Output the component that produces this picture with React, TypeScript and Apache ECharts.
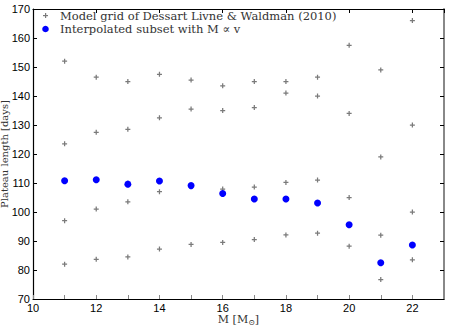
import React, { useEffect, useRef } from "react";
import * as echarts from "echarts";

const masses = [11, 12, 13, 14, 15, 16, 17, 18, 19, 20, 21, 22];
const gridTop = [152, 146.5, 145, 147.5, 145.5, 143.5, 145, 145, 146.5, 157.5, 149, 166];
const gridUpper = [123.5, 127.5, 128.5, 132.5, 135.5, 135, 136, 141, 140, 134, 119, 130];
const gridMid = [97, 101, 103.5, 107, 108.8, 107.9, 108.6, 110.2, 111, 105, 92, 100];
const gridLow = [82, 83.7, 84.5, 87.2, 88.8, 89.5, 90.5, 92.1, 92.7, 88.2, 76.7, 83.5];
const interpolated = [110.8, 111.1, 109.6, 110.7, 109.1, 106.4, 104.5, 104.5, 103.1, 95.6, 82.5, 88.6];

const xTicks = [10, 12, 14, 16, 18, 20, 22];
const yTicks = [70, 80, 90, 100, 110, 120, 130, 140, 150, 160, 170];

const legendModel = "Model grid of Dessart Livne & Waldman (2010)";
const legendInterp = "Interpolated subset with M \u221d v";

const PLUS = "path://M3,0H5V3H8V5H5V8H3V5H0V3H3Z";
const GRAY = "#7a7a7a";
const BLUE = "#0000ff";
const SERIF = "DejaVu Serif, Liberation Serif, serif";

export default function App() {
  const ref = useRef<HTMLDivElement>(null);
  useEffect(() => {
    if (!ref.current) return;
    const chart = echarts.init(ref.current, undefined, { renderer: "svg" });
    const gridData: number[][] = [];
    masses.forEach((m, i) => {
      gridData.push([m, gridTop[i]]);
      gridData.push([m, gridUpper[i]]);
      gridData.push([m, gridMid[i]]);
      gridData.push([m, gridLow[i]]);
    });
    const interpData = masses.map((m, i) => [m, interpolated[i]]);
    const tickFont = { fontFamily: "Liberation Sans, Arial, sans-serif", fontSize: 11, color: "#000" };
    chart.setOption({
      animation: false,
      backgroundColor: "#fff",
      grid: { left: 33, right: 6, top: 9, bottom: 27, containLabel: false, outerBoundsMode: "none" },
      graphic: [
        { type: "rect", left: 43, top: 15, shape: { width: 5, height: 1.2 }, style: { fill: GRAY }, z: 10 },
        { type: "rect", left: 45, top: 13, shape: { width: 1.2, height: 5 }, style: { fill: GRAY }, z: 10 },
        { type: "circle", shape: { cx: 45.5, cy: 29, r: 3.3 }, style: { fill: BLUE }, z: 10 },
        {
          type: "text",
          left: 60,
          top: 10,
          style: { text: legendModel, font: `11.5px ${SERIF}`, fill: "#333" },
          z: 10,
        },
        {
          type: "text",
          left: 60,
          top: 23,
          style: { text: legendInterp, font: `11.5px ${SERIF}`, fill: "#333" },
          z: 10,
        },
      ],
      xAxis: [
        {
          type: "value",
          min: 10,
          max: 23,
          interval: 1,
          name: "M [M{sub|\u2299}]",
          nameLocation: "middle",
          nameGap: 14,
          nameMoveOverlap: false,
          nameTextStyle: {
            fontFamily: SERIF,
            fontSize: 11,
            color: "#333",
            rich: { sub: { fontFamily: SERIF, fontSize: 8, color: "#333", padding: [5, 0, 0, 0] } },
          },
          axisLine: { show: true, lineStyle: { color: "#000", width: 1.2 } },
          axisTick: { show: true, inside: true, length: 4, interval: (i: number, v: any) => xTicks.includes(Number(v)), lineStyle: { color: "#888" } },
          axisLabel: { ...tickFont, margin: 3, formatter: (v: number) => (xTicks.includes(v) ? String(v) : "") },
          splitLine: { show: false },
        },
        {
          type: "value",
          position: "top",
          min: 10,
          max: 23,
          interval: 2,
          axisLine: { show: true, lineStyle: { color: "#000", width: 1.2 } },
          axisTick: { show: true, inside: true, length: 4, lineStyle: { color: "#000" } },
          axisLabel: { show: false },
          splitLine: { show: false },
        },
      ],
      yAxis: [
        {
          type: "value",
          min: 70,
          max: 170,
          interval: 10,
          name: "Plateau length [days]",
          nameLocation: "middle",
          nameGap: 24,
          nameMoveOverlap: false,
          nameTextStyle: { fontFamily: SERIF, fontSize: 10, color: "#333" },
          axisLine: { show: true, lineStyle: { color: "#000", width: 1.2 } },
          axisTick: { show: true, inside: true, length: 4, lineStyle: { color: "#000" } },
          axisLabel: { ...tickFont, margin: 3, formatter: (v: number) => (yTicks.includes(v) ? String(v) : "") },
          splitLine: { show: false },
        },
        {
          type: "value",
          position: "right",
          min: 70,
          max: 170,
          interval: 10,
          axisLine: { show: true, lineStyle: { color: "#888", width: 2 } },
          axisTick: { show: true, inside: true, length: 4, lineStyle: { color: "#000" } },
          axisLabel: { show: false },
          splitLine: { show: false },
        },
      ],
      series: [
        {
          name: legendModel,
          type: "scatter",
          symbol: PLUS,
          symbolSize: 5,
          itemStyle: { color: GRAY, opacity: 1 },
          data: gridData,
          z: 2,
        },
        {
          name: legendInterp,
          type: "scatter",
          symbol: "circle",
          symbolSize: 7,
          itemStyle: { color: BLUE, opacity: 1 },
          data: interpData,
          z: 3,
        },
      ],
    });
    return () => chart.dispose();
  }, []);
  return <div ref={ref} style={{ width: 450, height: 326, position: "absolute", left: 0, top: 0 }} />;
}
